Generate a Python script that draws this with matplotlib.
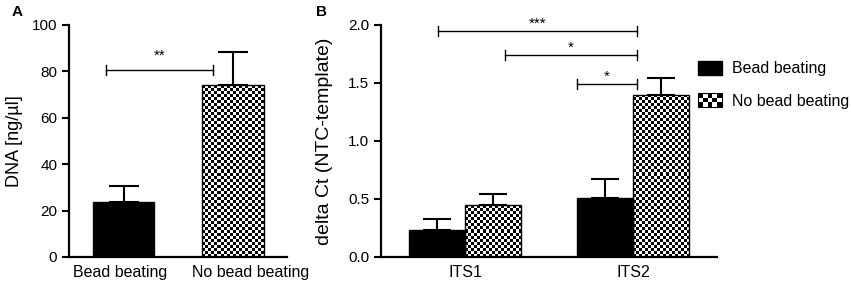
import numpy as np
import matplotlib
matplotlib.use("Agg")
import matplotlib.pyplot as plt
from matplotlib.patches import Rectangle
from matplotlib.legend_handler import HandlerBase

plt.rcParams["font.family"] = ["Liberation Sans", "DejaVu Sans"]

# Panel A: DNA yield
groups_a = ["Bead beating", "No bead beating"]
dna_mean = [23.6, 74.1]
dna_err = [6.8, 14.1]
brackets_a = [(-0.16, 0.817, 80.6, "**")]

# Panel B: delta Ct
targets = ["ITS1", "ITS2"]
series = ["Bead beating", "No bead beating"]
ct_bead = [0.233, 0.511]
ct_bead_err = [0.092, 0.159]
ct_nobead = [0.448, 1.40]
ct_nobead_err = [0.092, 0.14]
brackets_b = [(-0.16, 1.024, 1.95, "***"),
              (0.238, 1.024, 1.74, "*"),
              (0.664, 1.024, 1.49, "*")]

CELL_PX = 3


def checker_fill(ax, bar):
    x0, y0 = bar.get_x(), bar.get_y()
    x1, y1 = x0 + bar.get_width(), y0 + bar.get_height()
    p0 = ax.transData.transform((x0, y0))
    p1 = ax.transData.transform((x1, y1))
    ncols = max(1, int(round(abs(p1[0] - p0[0]) / CELL_PX)))
    nrows = max(1, int(round(abs(p1[1] - p0[1]) / CELL_PX)))
    arr = np.indices((nrows, ncols)).sum(0) % 2
    im = ax.imshow(arr, cmap="gray", extent=[x0, x1, y0, y1], origin="lower",
                   aspect="auto", interpolation="nearest", zorder=2)
    im.set_clip_path(bar)


class CheckerHandler(HandlerBase):
    def create_artists(self, legend, orig, xd, yd, width, height, fontsize, trans):
        arts = []
        nx, ny = 5, 3
        cw, ch = width / nx, height / ny
        for i in range(nx):
            for j in range(ny):
                if (i + j) % 2 == 0:
                    arts.append(Rectangle((-xd + i * cw, -yd + j * ch), cw, ch,
                                          facecolor="black", edgecolor="none", transform=trans))
        arts.append(Rectangle((-xd, -yd), width, height, facecolor="none",
                              edgecolor="black", lw=0.8, transform=trans))
        return arts


def style_axes(ax):
    for s in ["top", "right"]:
        ax.spines[s].set_visible(False)
    for s in ["left", "bottom"]:
        ax.spines[s].set_linewidth(1.6)
    ax.tick_params(axis="y", length=5, width=1.5, labelsize=11, pad=3.5)
    ax.tick_params(axis="x", length=0, labelsize=11.5, pad=6)


def draw_brackets(ax, brackets, tick_h, star_off):
    for x1, x2, y, lab in brackets:
        ax.plot([x1, x2], [y, y], color="black", lw=1.0)
        ax.plot([x1, x1], [y - tick_h, y + tick_h], color="black", lw=1.0)
        ax.plot([x2, x2], [y - tick_h, y + tick_h], color="black", lw=1.0)
        ax.text((x1 + x2) / 2, y + star_off, lab, ha="center", va="baseline", fontsize=11)


fig = plt.figure(figsize=(8.51, 2.87), dpi=100)
ax_a = fig.add_axes([69 / 851, 30 / 287, 218 / 851, 232 / 287])
ax_b = fig.add_axes([381 / 851, 30 / 287, 336 / 851, 232 / 287])

# ---- A
xa = np.arange(len(groups_a))
w_a = 0.56
ax_a.set_xlim(-0.498, 1.493)
ax_a.set_ylim(0, 100)
ax_a.errorbar(xa, dna_mean, yerr=[np.zeros(2), dna_err], fmt="none", ecolor="black",
              elinewidth=1.5, capsize=11, capthick=1.5, zorder=1)
bars_a = ax_a.bar(xa, dna_mean, w_a, color=["black", "none"], edgecolor="black",
                  linewidth=1.0, zorder=3)
checker_fill(ax_a, bars_a[1])
ax_a.set_xlim(-0.498, 1.493)
ax_a.set_ylim(0, 100)
# labels in the original sit slightly off the bar centres
ax_a.set_xticks(xa + np.array([-0.03, 0.16]))
ax_a.set_xticklabels(groups_a)
ax_a.set_yticks(range(0, 101, 20))
ax_a.set_ylabel("DNA [ng/µl]", fontsize=13, labelpad=6)
style_axes(ax_a)
draw_brackets(ax_a, brackets_a, 2.2, 4.6)

# ---- B
xb = np.arange(len(targets))
w_b = 0.336
ax_b.set_xlim(-0.5, 1.5)
ax_b.set_ylim(0, 2.0)
ax_b.errorbar(xb - w_b / 2, ct_bead, yerr=[np.zeros(2), ct_bead_err], fmt="none",
              ecolor="black", elinewidth=1.5, capsize=10, capthick=1.5, zorder=1)
ax_b.errorbar(xb + w_b / 2, ct_nobead, yerr=[np.zeros(2), ct_nobead_err], fmt="none",
              ecolor="black", elinewidth=1.5, capsize=10, capthick=1.5, zorder=1)
b1 = ax_b.bar(xb - w_b / 2, ct_bead, w_b, color="black", edgecolor="black",
              linewidth=1.0, zorder=3, label=series[0])
b2 = ax_b.bar(xb + w_b / 2, ct_nobead, w_b, color="none", edgecolor="black",
              linewidth=1.0, zorder=3, label=series[1])
for bar in b2:
    checker_fill(ax_b, bar)
ax_b.set_xlim(-0.5, 1.5)
ax_b.set_ylim(0, 2.0)
ax_b.set_xticks(xb)
ax_b.set_xticklabels(targets)
ax_b.set_yticks(np.arange(0, 2.01, 0.5))
ax_b.yaxis.set_major_formatter(matplotlib.ticker.FormatStrFormatter("%.1f"))
ax_b.set_ylabel("delta Ct (NTC-template)", fontsize=14, labelpad=11)
style_axes(ax_b)
draw_brackets(ax_b, brackets_b, 0.044, 0.03)

leg = fig.legend([b1[0], b2[0]], series, loc="upper left",
                 bbox_to_anchor=(698 / 851, 1 - 61 / 287), frameon=False, fontsize=11.5,
                 handler_map={b2[0]: CheckerHandler()}, handlelength=1.5,
                 handleheight=0.95, handletextpad=0.6, labelspacing=1.05, borderpad=0,
                 borderaxespad=0)

fig.text(12 / 851, 1 - 16 / 287, "A", fontsize=11, fontweight="bold")
fig.text(316 / 851, 1 - 16 / 287, "B", fontsize=11, fontweight="bold")

fig.savefig("out.png", dpi=100)
